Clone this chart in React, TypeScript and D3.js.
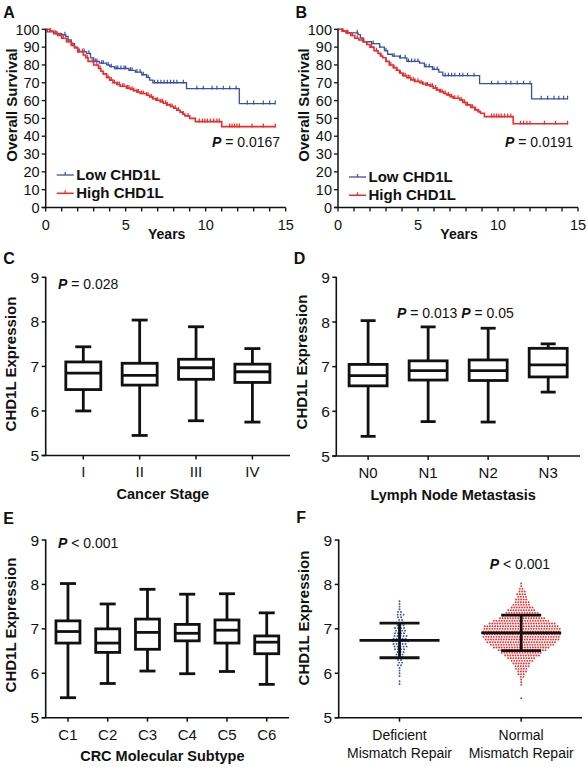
import React from 'react';
import * as d3 from 'd3';

// ---------- DATA ----------
// Kaplan-Meier curves: [years, survival %] at each step
const kmALow: [number, number][] = [
  [0, 100], [0.1, 98.5], [0.5, 97.5], [1.0, 97], [1.25, 96], [1.4, 94], [1.6, 92], [1.8, 90], [2.0, 87.5],
  [2.55, 86.5], [2.8, 84], [3.0, 82], [3.35, 81], [3.8, 80], [4.0, 79], [4.3, 78], [5.2, 77], [5.6, 76],
  [6.0, 74.5], [6.3, 73], [6.5, 71.5], [6.7, 70], [8.8, 66.7], [12.1, 58.3],
];
const kmAHigh: [number, number][] = [
  [0, 100], [0.25, 99], [0.5, 97.8], [0.75, 96.5], [1.0, 95], [1.3, 93], [1.6, 91], [1.8, 89.5], [2.0, 87.5],
  [2.35, 85.6], [2.5, 84], [2.65, 82], [3.0, 80], [3.3, 78], [3.45, 76.5], [3.6, 75], [3.8, 73], [4.0, 71.5],
  [4.2, 70], [4.45, 69], [4.65, 68], [5.05, 67], [5.3, 66.3], [5.5, 65.6], [5.7, 64.8], [5.9, 64], [6.3, 63],
  [6.5, 62], [6.7, 61], [6.9, 60.2], [7.15, 59.4], [7.35, 58.5], [7.55, 57.6], [7.8, 56.7], [8.0, 55.7],
  [8.2, 54.6], [8.4, 53.5], [8.55, 52.5], [8.7, 51.4], [9.0, 50], [9.35, 48.2], [11.0, 45.4],
];
const kmALowCensor = [
  0.7, 1.2, 2.1, 2.4, 2.7, 3.1, 3.2, 3.5, 3.6, 3.9, 4.1, 4.4, 4.5, 4.7, 4.9, 5.0, 5.3, 5.4, 5.7, 5.9, 6.1, 6.4,
  6.8, 7.0, 7.2, 7.4, 7.6, 7.8, 8.0, 8.2, 8.6, 9.45, 9.85, 10.4, 10.7, 11.1, 11.5, 11.9, 12.6, 13.0, 13.6, 14.0, 14.35,
];
const kmAHighCensor = [
  0.3, 0.6, 0.9, 1.1, 1.4, 1.7, 2.0, 2.3, 2.6, 2.9, 3.2, 3.4, 3.6, 3.8, 3.9, 4.1, 4.3, 4.5, 4.6, 4.8, 4.9, 5.1,
  5.2, 5.4, 5.5, 5.7, 5.8, 6.0, 6.1, 6.3, 6.4, 6.6, 6.7, 6.9, 7.0, 7.2, 7.3, 7.5, 7.6, 7.8, 7.9, 8.1, 8.3, 8.6,
  8.9, 9.6, 9.8, 9.95, 10.1, 10.3, 10.5, 10.7, 10.85, 11.5, 11.65, 11.8, 11.95, 12.1, 12.9, 13.6, 14.35,
];
const kmBLow: [number, number][] = [
  [0, 100], [0.3, 99], [0.6, 98], [1.25, 97], [1.4, 95], [1.6, 93], [2.1, 92], [2.6, 90], [2.9, 88], [3.1, 86],
  [3.4, 85], [3.85, 84], [4.3, 82], [5.1, 81], [5.4, 79], [5.9, 77.5], [6.3, 76], [6.55, 74], [8.85, 69.5], [12.1, 61],
];
const kmBHigh: [number, number][] = [
  [0, 100], [0.25, 99], [0.5, 98], [0.8, 96.5], [1.05, 95], [1.3, 94], [1.55, 93], [1.8, 91.5], [2.0, 90],
  [2.25, 88], [2.5, 86.5], [2.65, 85], [2.8, 84], [3.0, 82], [3.2, 80], [3.45, 78.5], [3.65, 77], [3.85, 75.5],
  [4.05, 74], [4.3, 72.8], [4.55, 71.6], [4.8, 70.8], [5.1, 70], [5.3, 69.3], [5.5, 68.8], [5.75, 68], [5.95, 67],
  [6.15, 66], [6.35, 65], [6.6, 64], [6.8, 63.2], [7.0, 62.2], [7.2, 61.3], [7.6, 60.4], [7.8, 59], [8.0, 57.6],
  [8.3, 56.2], [8.55, 54.8], [8.75, 53.8], [8.9, 52.9], [9.15, 51], [10.95, 47],
];
const kmBLowCensor = [
  0.6, 1.2, 1.6, 2.2, 2.6, 3.0, 3.5, 3.9, 4.2, 4.4, 4.6, 4.8, 5.0, 5.5, 5.7, 6.0, 6.2, 6.7, 6.9, 7.1, 7.3, 7.6,
  7.8, 8.1, 8.5, 9.6, 10.0, 10.5, 10.8, 11.2, 11.6, 12.0, 12.7, 13.1, 13.5, 13.8, 14.1, 14.35,
];
const kmBHighCensor = [
  0.3, 0.6, 0.9, 1.2, 1.5, 1.8, 2.1, 2.4, 2.7, 3.0, 3.3, 3.5, 3.7, 3.9, 4.1, 4.2, 4.4, 4.5, 4.7, 4.8, 5.0, 5.2,
  5.3, 5.5, 5.6, 5.8, 5.9, 6.1, 6.2, 6.4, 6.5, 6.7, 6.9, 7.1, 7.3, 7.5, 7.7, 7.9, 8.1, 8.4, 8.6, 8.8, 9.6, 9.75,
  9.9, 10.05, 10.2, 10.4, 10.6, 10.8, 11.4, 11.6, 11.8, 12.0, 12.9, 13.6, 14.35,
];
const kmEndYear = 14.35;
const survivalTicks = [0, 10, 20, 30, 40, 50, 60, 70, 80, 90, 100];
const yearTicks = [0, 1, 2, 3, 4, 5, 6, 7, 8, 9, 10, 11, 12, 13, 14, 15];
const yearLabels = [0, 5, 10, 15];

// Box plots: [min, Q1, median, Q3, max]
const exprTicks = [5, 6, 7, 8, 9];
const stageCategories = ['I', 'II', 'III', 'IV'];
const stageBoxes = [
  [6.0, 6.48, 6.85, 7.1, 7.44],
  [5.45, 6.58, 6.8, 7.07, 8.04],
  [5.78, 6.71, 6.97, 7.16, 7.89],
  [5.75, 6.64, 6.88, 7.05, 7.4],
];
const nodeCategories = ['N0', 'N1', 'N2', 'N3'];
const nodeBoxes = [
  [5.44, 6.57, 6.8, 7.05, 8.03],
  [5.77, 6.7, 6.91, 7.13, 7.89],
  [5.76, 6.69, 6.91, 7.15, 7.86],
  [6.43, 6.77, 7.04, 7.41, 7.51],
];
const subtypeCategories = ['C1', 'C2', 'C3', 'C4', 'C5', 'C6'];
const subtypeBoxes = [
  [5.45, 6.68, 6.94, 7.18, 8.02],
  [5.77, 6.47, 6.68, 7.0, 7.56],
  [6.05, 6.54, 6.92, 7.22, 7.89],
  [5.99, 6.73, 6.9, 7.1, 7.78],
  [6.04, 6.68, 6.97, 7.2, 7.79],
  [5.75, 6.44, 6.7, 6.84, 7.36],
];

// Mismatch repair scatter: mean, SD, histogram of dots per 0.06 row (from top value down)
const mmrGroups = ['Deficient', 'Normal'];
const mmrMeans = [6.74, 6.91];
const mmrSD = [0.39, 0.4];
const mmrRowStep = 0.06;
const dmmrTop = 7.62;
const dmmrRowCounts = [1, 1, 1, 1, 2, 3, 2, 2, 3, 3, 4, 4, 4, 5, 5, 6, 5, 5, 4, 3, 3, 2, 2, 2, 2, 1, 1, 1, 1, 0, 1, 1];
const pmmrTop = 8.02;
const pmmrRowCounts = [
  1, 1, 2, 3, 4, 4, 5, 6, 7, 9, 11, 13, 15, 18, 22, 26, 29, 30, 30, 30, 30, 29, 27, 25, 22, 19, 16, 14, 11, 9,
  7, 6, 5, 4, 3, 2, 1, 1, 1, 0, 0, 0, 0, 1,
];

// ---------- DRAWING ----------
const FONT = "'Liberation Sans', Arial, Helvetica, sans-serif";
const BLUE = '#3a50a8';
const RED = '#ee2a2a';

function PLabel({ x, y, parts, size = 14 }: { x: number; y: number; parts: string[]; size?: number }) {
  return (
    <text x={x} y={y} fontSize={size} fontFamily={FONT} fill="#111">
      {parts.map((p, i) => (
        <React.Fragment key={i}>
          <tspan fontWeight="bold" fontStyle="italic">P</tspan>
          <tspan>{p}</tspan>
        </React.Fragment>
      ))}
    </text>
  );
}

function Letter({ x, y, t }: { x: number; y: number; t: string }) {
  return (
    <text x={x} y={y} fontSize={16} fontWeight="bold" fontFamily={FONT} fill="#111">{t}</text>
  );
}

function stepValue(curve: [number, number][], t: number) {
  let v = curve[0][1];
  for (const [ct, cv] of curve) { if (ct <= t) v = cv; }
  return v;
}

function KMPanel({ left, letter, low, high, lowCens, highCens, pText, pX, legendDy }: any) {
  const right = left + 240;
  const top = 29.3, bottom = 207.5;
  const x = d3.scaleLinear().domain([0, 15]).range([left, right]);
  const y = d3.scaleLinear().domain([0, 100]).range([bottom, top]);
  const line = d3.line<[number, number]>().x(d => x(d[0])).y(d => y(d[1])).curve(d3.curveStepAfter);
  const withEnd = (c: [number, number][]) => [...c, [kmEndYear, c[c.length - 1][1]] as [number, number]];
  const ticks = (c: [number, number][], cens: number[], color: string) => cens.map((t, i) => {
    const yy = y(stepValue(c, t));
    return <line key={i} x1={x(t)} x2={x(t)} y1={yy - 3} y2={yy + 0.8} stroke={color} strokeWidth={1.2} />;
  });
  const ly1 = 175 + legendDy, ly2 = 193.3 + legendDy;
  return (
    <g>
      <Letter x={left - 42.5} y={18} t={letter} />
      <path d={line(withEnd(low)) || ''} fill="none" stroke={BLUE} strokeWidth={1.3} />
      {ticks(low, lowCens, BLUE)}
      <path d={line(withEnd(high)) || ''} fill="none" stroke={RED} strokeWidth={1.6} />
      {ticks(high, highCens, RED)}
      <line x1={left} x2={left} y1={top - 0.5} y2={bottom} stroke="#111" strokeWidth={1.5} />
      <line x1={left - 4} x2={right} y1={bottom} y2={bottom} stroke="#111" strokeWidth={1.5} />
      {survivalTicks.map(v => (
        <g key={v}>
          <line x1={left - 4} x2={left} y1={y(v)} y2={y(v)} stroke="#111" strokeWidth={1.3} />
          <text x={left - 6} y={y(v)} dy="0.36em" textAnchor="end" fontSize={14.5} fontFamily={FONT} fill="#111">{v}</text>
        </g>
      ))}
      {yearTicks.map(v => (
        <line key={v} x1={x(v)} x2={x(v)} y1={bottom} y2={bottom + 4} stroke="#111" strokeWidth={1.3} />
      ))}
      {yearLabels.map(v => (
        <text key={v} x={x(v)} y={230} textAnchor="middle" fontSize={14.5} fontFamily={FONT} fill="#111">{v}</text>
      ))}
      <text x={left + 121} y={239} textAnchor="middle" fontSize={14} fontWeight="bold" fontFamily={FONT} fill="#111">Years</text>
      <text transform={`translate(${left - 29},105) rotate(-90)`} textAnchor="middle" fontSize={15} fontWeight="bold" fontFamily={FONT} fill="#111">Overall Survival</text>
      <line x1={left + 11} x2={left + 28} y1={ly1} y2={ly1} stroke={BLUE} strokeWidth={1.3} />
      <line x1={left + 19.5} x2={left + 19.5} y1={ly1 - 3} y2={ly1} stroke={BLUE} strokeWidth={1.2} />
      <text x={left + 30.5} y={ly1 + 4.5} fontSize={15} fontWeight="bold" fontFamily={FONT} fill="#111">Low CHD1L</text>
      <line x1={left + 11} x2={left + 28} y1={ly2} y2={ly2} stroke={RED} strokeWidth={1.5} />
      <line x1={left + 19.5} x2={left + 19.5} y1={ly2 - 3} y2={ly2} stroke={RED} strokeWidth={1.2} />
      <text x={left + 30.5} y={ly2 + 4.5} fontSize={15} fontWeight="bold" fontFamily={FONT} fill="#111">High CHD1L</text>
      <PLabel x={pX} y={146.5} parts={[pText]} />
    </g>
  );
}

function ExprAxis({ left, right, top, bottom, letter, letterY, titleY }: any) {
  const y = d3.scaleLinear().domain([5, 9]).range([bottom, top]);
  return (
    <g>
      <Letter x={left - 42.5} y={letterY} t={letter} />
      <line x1={left} x2={left} y1={top - 0.5} y2={bottom} stroke="#111" strokeWidth={1.6} />
      <line x1={left - 4} x2={right} y1={bottom} y2={bottom} stroke="#111" strokeWidth={1.6} />
      {exprTicks.map(v => (
        <g key={v}>
          <line x1={left - 4} x2={left} y1={y(v)} y2={y(v)} stroke="#111" strokeWidth={1.5} />
          <text x={left - 6.5} y={y(v)} dy="0.36em" textAnchor="end" fontSize={15.5} fontFamily={FONT} fill="#111">{v}</text>
        </g>
      ))}
      <text transform={`translate(${left - 29.5},${titleY}) rotate(-90)`} textAnchor="middle" fontSize={15} fontWeight="bold" fontFamily={FONT} fill="#111">CHD1L Expression</text>
    </g>
  );
}

function BoxPanel({ left, right, top, bottom, padding, cats, boxes, boxW, capW, letter, letterY, titleY, title, tickY, xTitleY }: any) {
  const y = d3.scaleLinear().domain([5, 9]).range([bottom, top]);
  const x = d3.scalePoint<string>().domain(cats).range([left, right]).padding(padding);
  const sw = 2.8;
  return (
    <g>
      <ExprAxis left={left} right={right} top={top} bottom={bottom} letter={letter} letterY={letterY} titleY={titleY} />
      {cats.map((c: string, i: number) => {
        const [mn, q1, md, q3, mx] = boxes[i];
        const cx = x(c) as number;
        return (
          <g key={c} stroke="#111" strokeWidth={sw} fill="none">
            <line x1={cx} x2={cx} y1={y(mx)} y2={y(q3)} />
            <line x1={cx} x2={cx} y1={y(q1)} y2={y(mn)} />
            <line x1={cx - capW / 2} x2={cx + capW / 2} y1={y(mx)} y2={y(mx)} />
            <line x1={cx - capW / 2} x2={cx + capW / 2} y1={y(mn)} y2={y(mn)} />
            <rect x={cx - boxW / 2} y={y(q3)} width={boxW} height={y(q1) - y(q3)} fill="#fff" />
            <line x1={cx - boxW / 2} x2={cx + boxW / 2} y1={y(md)} y2={y(md)} />
            <line x1={cx} x2={cx} y1={bottom} y2={bottom + 4} strokeWidth={1.5} />
            <text x={cx} y={tickY} textAnchor="middle" fontSize={15} fontFamily={FONT} fill="#111" stroke="none">{c}</text>
          </g>
        );
      })}
      <text x={(left + right) / 2 - 5} y={xTitleY} textAnchor="middle" fontSize={14.5} fontWeight="bold" fontFamily={FONT} fill="#111">{title}</text>
    </g>
  );
}

function SwarmPanel({ left, right, top, bottom }: any) {
  const y = d3.scaleLinear().domain([5, 9]).range([bottom, top]);
  const x = d3.scalePoint<string>().domain(mmrGroups).range([left, right]).padding(0.5);
  const dots = (cx: number, topV: number, counts: number[], spacing: number) => {
    const out: { x: number; y: number }[] = [];
    counts.forEach((n, r) => {
      const v = topV - r * mmrRowStep;
      const shift = r % 2 === 0 ? 0 : spacing * 0.35;
      for (let j = 0; j < n; j++) out.push({ x: cx + (j - (n - 1) / 2) * spacing + (n > 1 ? shift : 0), y: y(v) });
    });
    return out;
  };
  const dx = x('Deficient') as number;
  const nx = x('Normal') as number;
  const dDots = dots(dx, dmmrTop, dmmrRowCounts, 3.0);
  const nDots = dots(nx, pmmrTop, pmmrRowCounts, 2.6);
  return (
    <g>
      <ExprAxis left={left} right={right} top={top} bottom={bottom} letter="F" letterY={523} titleY={618} />
      {dDots.map((d, i) => <circle key={'d' + i} cx={d.x} cy={d.y} r={0.95} fill={BLUE} />)}
      {nDots.map((d, i) => <circle key={'n' + i} cx={d.x} cy={d.y} r={0.95} fill={RED} />)}
      {mmrGroups.map((g, i) => {
        const cx = x(g) as number;
        const m = mmrMeans[i], s = mmrSD[i];
        return (
          <g key={g} stroke="#111" strokeWidth={2.8}>
            <line x1={cx} x2={cx} y1={y(m + s)} y2={y(m - s)} />
            <line x1={cx - 40} x2={cx + 40} y1={y(m)} y2={y(m)} />
            <line x1={cx - 20} x2={cx + 20} y1={y(m + s)} y2={y(m + s)} />
            <line x1={cx - 20} x2={cx + 20} y1={y(m - s)} y2={y(m - s)} />
            <line x1={cx} x2={cx} y1={bottom} y2={bottom + 4} strokeWidth={1.5} />
            <text x={cx} y={739.5} textAnchor="middle" fontSize={14} fontFamily={FONT} fill="#111" stroke="none">{g}</text>
            <text x={cx} y={757.5} textAnchor="middle" fontSize={14} fontFamily={FONT} fill="#111" stroke="none">Mismatch Repair</text>
          </g>
        );
      })}
      <PLabel x={489.7} y={569} parts={[' < 0.001']} />
    </g>
  );
}

export default function App() {
  return (
    <svg width={587} height={767} viewBox="0 0 587 767" style={{ position: 'absolute', left: 0, top: 0, background: '#fff' }}>
      <rect width={587} height={767} fill="#fff" />
      <KMPanel left={45.7} letter="A" low={kmALow} high={kmAHigh} lowCens={kmALowCensor} highCens={kmAHighCensor} pText=" = 0.0167" pX={212} legendDy={0} />
      <KMPanel left={338} letter="B" low={kmBLow} high={kmBHigh} lowCens={kmBLowCensor} highCens={kmBHighCensor} pText=" = 0.0191" pX={505} legendDy={2} />
      <BoxPanel left={45.7} right={290} top={277.3} bottom={455.5} padding={0.667} cats={stageCategories} boxes={stageBoxes}
        boxW={35} capW={16} letter="C" letterY={264} titleY={364} title="Cancer Stage" tickY={477} xTitleY={499} />
      <PLabel x={58} y={288.5} parts={[' = 0.028']} />
      <BoxPanel left={336.3} right={580} top={277.3} bottom={456} padding={0.53} cats={nodeCategories} boxes={nodeBoxes}
        boxW={38} capW={15} letter="D" letterY={264} titleY={362} title="Lymph Node Metastasis" tickY={478} xTitleY={500} />
      <PLabel x={397} y={318.3} parts={[' = 0.013 ', ' = 0.05']} />
      <BoxPanel left={45.7} right={289} top={540} bottom={717.7} padding={0.56} cats={subtypeCategories} boxes={subtypeBoxes}
        boxW={24} capW={16} letter="E" letterY={524} titleY={625} title="CRC Molecular Subtype" tickY={740} xTitleY={760.5} />
      <PLabel x={58} y={548.3} parts={[' < 0.001']} />
      <SwarmPanel left={338.7} right={582} top={540} bottom={717.7} />
    </svg>
  );
}
